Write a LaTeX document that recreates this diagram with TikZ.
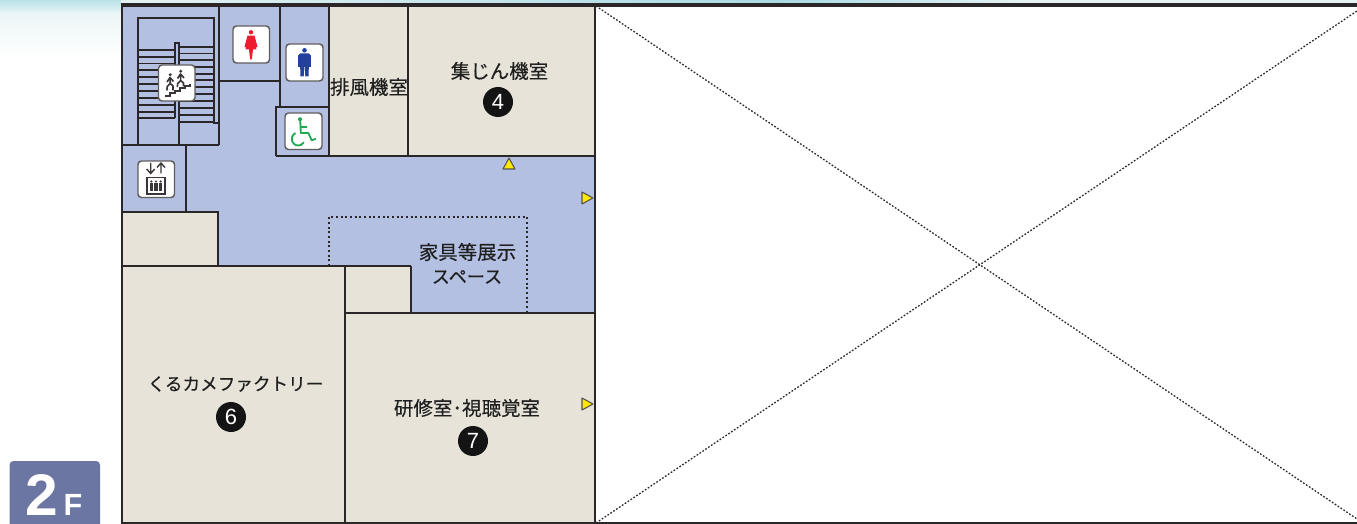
\documentclass[tikz,border=0pt]{standalone}
\usepackage{fontspec}
\setmainfont{Liberation Sans}
\newfontfamily\jp[FakeBold=0.35]{Noto Sans CJK JP}
\definecolor{wallc}{HTML}{2B2627}
\definecolor{corr}{HTML}{B3C0E2}
\definecolor{room}{HTML}{E7E3D9}
\definecolor{badge}{HTML}{6B76A3}
\definecolor{tealsky}{HTML}{A9DAE4}
\definecolor{palesky}{HTML}{E4F2F3}
\definecolor{wgreen}{HTML}{1FA84F}
\definecolor{mblue}{HTML}{22409C}
\definecolor{wred}{HTML}{EE1C2E}
\definecolor{iconk}{HTML}{3A3536}
\definecolor{markyel}{HTML}{FFE800}
\tikzset{
 wall/.style={draw=wallc,line width=2pt,line cap=rect},
 thinwall/.style={draw=wallc,line width=1.5pt},
 tread/.style={draw=wallc,line width=1.25pt},
 dotline/.style={draw=wallc,line width=1.1pt,dash pattern=on 1.6pt off 1.9pt},
 crossline/.style={draw=wallc,line width=.95pt,dash pattern=on 1.3pt off 1.3pt},
 iconbox/.style={draw=iconk!80,fill=white,line width=1.1pt,rounded corners=2.6pt},
 label/.style={font=\jp\fontsize{14.6pt}{18pt}\selectfont,text=black!88,inner sep=0pt,align=center},
 numdisc/.style={circle,fill=black!92,text=white,minimum size=22.5pt,inner sep=0pt,font=\fontsize{16.5pt}{17pt}\selectfont},
 marktri/.style={fill=markyel,draw=wallc!80,line width=.8pt,line join=round},
}
\begin{document}
\begin{tikzpicture}[x=.75pt,y=-.75pt]
\useasboundingbox (0,0) rectangle (1357,524);
% sky
\fill[white] (0,0) rectangle (1357,524);
\shade[top color=tealsky!80,bottom color=palesky!70] (0,0) rectangle (121,14);
\shade[top color=palesky!70,bottom color=white] (0,14) rectangle (121,60);
\shade[left color=palesky,right color=tealsky] (121,0) rectangle (780,5);
\shade[left color=tealsky,right color=palesky] (780,0) rectangle (1020,5);
\fill[palesky] (1020,0) rectangle (1357,5);
% floors
\fill[corr] (122,5) rectangle (595,523);
\fill[room] (329,5) rectangle (595,157);
\fill[room] (122,212) rectangle (218,266);
\fill[room] (122,266) rectangle (345,523);
\fill[room] (345,266) rectangle (411,313);
\fill[room] (345,313) rectangle (595,523);
% cross
\coordinate (xa) at (596,6);\coordinate (xb) at (1357,519);
\coordinate (xc) at (596,523);\coordinate (xd) at (1357,11);
\draw[crossline] (xa)--(xb);
\draw[crossline] (xc)--(xd);
% stairs
\foreach \y in {50,57,63.5,70,77,84,91,98,105,112,118}{\draw[tread] (138,\y)--(175,\y);}
\foreach \y in {47,53.5,60,67,74,80,87,94,101,108,115,122}{\draw[tread] (179,\y)--(214,\y);}
\draw[thinwall] (138,145)--(138,18)--(214,18)--(214,123)--(219,123);
\draw[thinwall,fill=corr] (175,118)--(175,43)--(179,43)--(179,145);
% dotted area
\draw[dotline] (329,266)--(329,217)--(527,217)--(527,313);
% walls
\draw[thinwall] (122,145)--(219,145);
\draw[thinwall] (219,5)--(219,145);
\draw[thinwall] (186,145)--(186,212);
\draw[thinwall] (122,212)--(218,212)--(218,266);
\draw[thinwall] (219,81)--(280,81);
\draw[thinwall] (280,5)--(280,107);
\draw[thinwall] (276,156.5)--(276,107)--(329,107);
\draw[thinwall] (276,156.5)--(595,156.5);
\draw[thinwall] (329,5)--(329,157);
\draw[thinwall] (408,5)--(408,157);
\draw[thinwall] (122,266)--(411,266);
\draw[thinwall] (345,266)--(345,523);
\draw[thinwall] (411,266)--(411,313);
\draw[thinwall] (345,313)--(595,313);
\draw[thinwall] (595,5)--(595,523);
\draw[wall] (122,5)--(122,523);
\draw[wall] (122,523)--(1357,523);
\draw[wall,line width=2.6pt,line cap=butt] (120.5,5)--(1357,5);
% icon: stairs
\draw[iconbox] (158.5,65) rectangle (195,101);
\draw[iconk,line width=1.5pt] (165,96)--(170,96)--(170,93.5)--(175,93.5)--(175,91)--(180,91)--(180,88.5)--(185,88.5)--(185,86)--(190,86)--(190,84);
\fill[iconk] (170.3,74.8) circle (1.6) (180.7,71.3) circle (1.6);
\draw[iconk,line width=1.2pt,line join=round] (170,77.5)--(170.3,83.5)--(173,86)--(173,90.5) (170.3,83.5)--(167.3,86.5)--(166.8,90.5) (167,82)--(170,77.5)--(173.5,81.5);
\draw[iconk,line width=1.2pt,line join=round] (180.5,74)--(180.7,80.5)--(183.5,83)--(183.5,86.5) (180.7,80.5)--(177.7,83.5)--(177.3,87) (177.5,78.5)--(180.5,74)--(184,78);
% icon: woman
\draw[iconbox] (233,26) rectangle (269.5,63);
\fill[wred] (251,32.3) circle (2.2);
\fill[wred] (247.5,35.6)--(254.5,35.6)--(257.5,47)--(255.8,47.5)--(254.3,42)--(256.5,49.5)--(253,49.5)--(251.8,59.5)--(250.2,59.5)--(249,49.5)--(245.5,49.5)--(247.7,42)--(246.2,47.5)--(244.5,47)--cycle;
% icon: man
\draw[iconbox] (286,44) rectangle (323,81);
\fill[mblue] (304.5,50.3) circle (2.3);
\fill[mblue] (300,53.5)--(309,53.5)--(310.8,55.5)--(310.8,67)--(308.8,67)--(308.6,76.5)--(305.3,76.5)--(304.8,67)--(304.2,67)--(303.7,76.5)--(300.4,76.5)--(300.2,67)--(298.2,67)--(298.2,55.5)--cycle;
% icon: wheelchair
\draw[iconbox] (285,113) rectangle (322,149.5);
\fill[wgreen] (300,119.2) circle (2);
\draw[wgreen,line width=1.35pt,line join=round] (300.2,120)--(300.8,133)--(308.3,133)--(311.7,140.3)--(315.8,138.8);
\draw[wgreen,line width=1.35pt] (300.4,127)--(306.7,127);
\draw[wgreen,line width=1.35pt] (295.55,133.1) arc[start angle=245,end angle=30,radius=6.5];
% icon: lift
\draw[iconbox] (138,161) rectangle (174.5,197.5);
\draw[iconk,line width=1.05pt] (150.7,163)--(150.7,173.5) (146.7,169)--(150.7,173.5)--(154.7,169);
\draw[iconk,line width=1.05pt] (161,173.5)--(161,163) (157,167.5)--(161,163)--(165,167.5);
\draw[iconk,line width=1.2pt] (146.7,177.7) rectangle (165,194);
\foreach \x in {151.3,156,160.6}{
 \fill[iconk] (\x,181.5) circle (1.2);
 \fill[iconk] (\x-1.8,183.2)rectangle(\x+1.8,191.5);
}
% labels
\node[label] (exh) at (369,87) {排風機室};
\node[label] (dust) at (499.5,71) {集じん機室};
\node[numdisc] (n4) at (498,102) {4};
\node[label] (furn) at (467.5,252) {家具等展示};
\node[label,font=\jp\fontsize{13.6pt}{17pt}\selectfont] (furnb) at (467,277) {スペース};
\node[label,font=\jp\fontsize{13.2pt}{17pt}\selectfont] (kuru) at (235.5,384) {くるカメファクトリー};
\node[numdisc] (n6) at (231,417) {6};
\node[label] (study) at (467,408) {研修室･視聴覚室};
\node[numdisc] (n7) at (473,441) {7};
% marks
\draw[marktri] (503,169)--(515,169)--(509,158)--cycle;
\draw[marktri] (582,192)--(582,204)--(593,198)--cycle;
\draw[marktri] (582,398)--(582,410)--(593,404)--cycle;
% badge
\fill[badge,rounded corners=3pt] (9.5,461) rectangle (100,530);
\node[inner sep=0pt,text=white,font=\bfseries\fontsize{44pt}{44pt}\selectfont,anchor=base] (two) at (42,515) {2};
\node[inner sep=0pt,text=white,font=\bfseries\fontsize{23pt}{23pt}\selectfont,anchor=base] (eff) at (73,515) {F};
\end{tikzpicture}
\end{document}
